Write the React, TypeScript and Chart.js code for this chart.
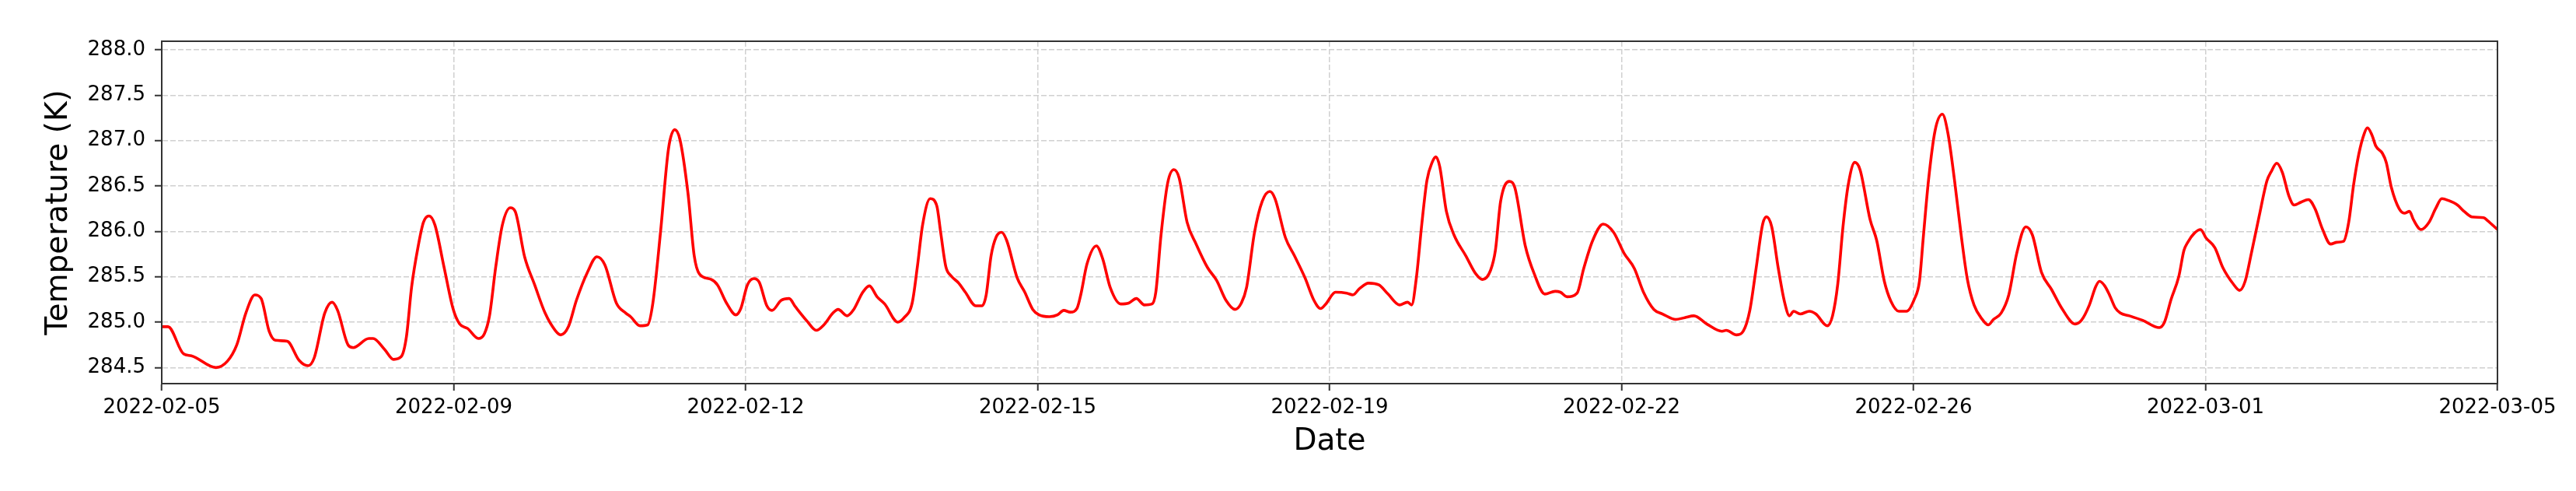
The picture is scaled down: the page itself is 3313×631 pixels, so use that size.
import React, { useEffect, useRef } from 'react';
import { Chart, registerables } from 'chart.js';

Chart.register(...registerables);

// Hours since 2022-02-05 00:00
const hours = [
  0.0, 1.8, 6.3, 8.5, 15.6, 18.9, 21.6, 24.2, 26.8, 28.6, 30.9, 32.7, 36.1, 39.5, 42.1, 43.9,
  46.9, 49.0, 50.6, 53.6, 55.1, 59.6, 60.8, 64.1, 66.7, 68.9, 70.4, 71.9, 73.8, 75.3, 76.9, 78.6,
  81.2, 83.8, 85.7, 88.0, 91.1, 92.8, 94.3, 96.1, 98.0, 100.3, 101.7, 104.4, 107.3, 110.3, 113.2,
  114.8, 117.0, 119.3, 122.6, 125.2, 127.5, 130.8, 133.5, 134.9, 137.6, 139.8, 141.3, 143.5, 145.8,
  147.6, 149.1, 151.4, 153.2, 154.7, 158.1, 159.9, 162.5, 165.2, 166.6, 168.5, 170.4, 171.9, 174.1,
  175.6, 178.2, 180.5, 182.3, 185.7, 188.3, 190.5, 193.1, 194.6, 197.2, 199.1, 201.7, 203.6, 205.8,
  208.0, 211.8, 213.6, 215.9, 217.4, 218.9, 221.1, 223.0, 224.1, 225.6, 227.1, 229.3, 231.2, 234.2,
  236.0, 237.2, 238.6, 240.1, 241.6, 243.1, 246.1, 248.3, 250.6, 252.4, 255.4, 257.7, 259.5, 261.4,
  263.3, 264.4, 266.2, 268.9, 270.7, 272.9, 275.9, 278.2, 280.4, 282.7, 284.9, 286.0, 287.5, 289.4,
  291.2, 292.7, 295.0, 297.6, 300.9, 303.5, 306.2, 308.8, 310.6, 312.1, 314.4, 316.6, 318.8, 320.3,
  323.3, 325.9, 328.9, 331.5, 333.4, 334.9, 337.7, 340.9, 342.7, 344.6, 347.2, 350.2, 352.8, 356.1,
  358.4, 359.6, 361.0, 362.5, 364.0, 365.5, 366.6, 367.7, 369.6, 371.8, 375.2, 378.1, 380.0, 382.3,
  383.7, 385.2, 387.7, 389.3, 392.3, 394.9, 397.9, 400.9, 402.4, 404.3, 407.2, 409.1, 411.7, 414.7,
  417.7, 420.7, 423.7, 426.3, 429.3, 431.8, 435.6, 438.2, 440.8, 444.5, 448.9, 450.1, 453.1, 455.0,
  456.9, 458.7, 460.6, 461.7, 463.2, 465.1, 466.9, 468.3, 469.5, 471.4, 474.0, 475.9, 479.2, 480.7,
  482.2, 483.7, 485.2, 487.1, 488.6, 491.5, 493.4, 495.6, 497.5, 499.8, 502.0, 504.2, 505.7, 506.8,
  508.3, 510.2, 512.3, 513.9, 515.8, 517.7, 519.5, 521.4, 523.6, 525.5, 527.0, 529.2, 531.4, 533.7,
  536.3, 538.2, 540.8, 543.7, 546.7, 550.5, 552.3, 554.6, 556.4, 557.5, 559.0, 560.5, 562.0, 563.5,
  566.1, 569.9, 574.7, 576.2, 578.1, 580.3, 581.8, 582.9, 584.8, 586.6, 588.1, 590.7, 593.0, 596.0,
  597.8, 599.4, 601.2, 603.4, 605.7, 606.8, 608.5, 610.1, 612.0, 613.5, 615.4, 617.6, 619.5, 621.7,
  624.0, 625.8, 627.7, 629.2, 630.6, 632.1, 633.7, 634.6, 635.9, 637.0, 638.9, 640.0, 641.5, 643.7,
  645.2, 646.7, 647.8, 650.0, 652.3, 654.2, 656.0, 657.9, 660.5, 662.4, 664.6, 668.0, 669.1, 672.0,
];

// Temperature (K)
const temps = [
  284.95, 284.95, 284.65, 284.63, 284.50, 284.57, 284.75, 285.10, 285.30, 285.26, 284.90, 284.80, 284.79, 284.58, 284.52, 284.61,
  285.10, 285.22, 285.13, 284.75, 284.72, 284.82, 284.82, 284.70, 284.59, 284.62, 284.84, 285.39, 285.84, 286.10, 286.17, 286.07,
  285.61, 285.15, 284.98, 284.93, 284.82, 284.87, 285.07, 285.61, 286.07, 286.26, 286.22, 285.72, 285.41, 285.10, 284.91,
  284.86, 284.95, 285.24, 285.56, 285.72, 285.63, 285.21, 285.10, 285.06, 284.96, 284.97, 285.21, 285.99, 286.91,
  287.12, 287.01, 286.42, 285.73, 285.53, 285.47, 285.41, 285.21, 285.08, 285.15, 285.41, 285.48, 285.44, 285.18,
  285.13, 285.24, 285.26, 285.17, 285.01, 284.91, 284.97, 285.10, 285.14, 285.07, 285.14, 285.33, 285.40, 285.28,
  285.20, 285.00, 285.05, 285.21, 285.61, 286.07, 286.36, 286.28, 285.99, 285.61, 285.51, 285.43, 285.33, 285.18,
  285.18, 285.30, 285.73, 285.94, 285.99, 285.90, 285.49, 285.33, 285.14, 285.08, 285.06, 285.08, 285.13, 285.11,
  285.15, 285.30, 285.64, 285.84, 285.70, 285.38, 285.20, 285.21, 285.26, 285.19, 285.20, 285.33, 285.96, 286.53,
  286.68, 286.59, 286.10, 285.86, 285.60, 285.46, 285.24, 285.14, 285.21, 285.38, 285.99, 286.33, 286.44, 286.36,
  285.93, 285.73, 285.49, 285.24, 285.15, 285.20, 285.33, 285.32, 285.30, 285.37, 285.43, 285.41, 285.31, 285.19,
  285.22, 285.19, 285.50, 286.07, 286.56, 286.76, 286.82, 286.71, 286.22, 285.96, 285.73, 285.53, 285.47, 285.57,
  285.79, 286.33, 286.55, 286.48, 285.84, 285.53, 285.31, 285.34, 285.33, 285.28, 285.32, 285.59, 285.90, 286.08,
  285.99, 285.76, 285.59, 285.33, 285.14, 285.09, 285.03, 285.05, 285.07, 284.98, 284.90, 284.91, 284.86, 284.90,
  285.13, 285.59, 286.08, 286.16, 286.05, 285.59, 285.22, 285.07, 285.12, 285.09, 285.12, 285.09, 284.96, 285.07,
  285.42, 286.05, 286.51, 286.76, 286.68, 286.13, 285.90, 285.45, 285.23, 285.12, 285.12, 285.25, 285.45, 285.93,
  286.56, 287.11, 287.29, 287.08, 286.56, 285.96, 285.47, 285.19, 285.04, 284.97, 285.03, 285.10, 285.30, 285.76,
  286.05, 285.96, 285.55, 285.36, 285.15, 284.98, 285.02, 285.19, 285.39, 285.45, 285.40, 285.29, 285.16, 285.10,
  285.07, 285.02, 284.94, 285.00, 285.25, 285.50, 285.79, 285.88, 285.98, 286.02, 285.93, 285.82, 285.60, 285.42,
  285.35, 285.45, 285.76, 286.16, 286.56, 286.65, 286.75, 286.65, 286.39, 286.29, 286.32, 286.35, 286.25, 286.02,
  285.86, 285.88, 285.89, 286.10, 286.51, 286.85, 287.08, 287.14, 287.06, 286.94, 286.86, 286.76, 286.48, 286.25,
  286.20, 286.22, 286.13, 286.02, 286.10, 286.25, 286.36, 286.34, 286.29, 286.22, 286.16, 286.15, 286.12, 286.02,
];

const xTickHours = [0, 84, 168, 252, 336, 420, 504, 588, 672];
const xTickLabels = [
  '2022-02-05', '2022-02-09', '2022-02-12', '2022-02-15', '2022-02-19',
  '2022-02-22', '2022-02-26', '2022-03-01', '2022-03-05',
];
const yTicks = [284.5, 285.0, 285.5, 286.0, 286.5, 287.0, 287.5, 288.0];
const yMin = 284.323;
const yMax = 288.094;

const FONT = 'DejaVu Sans';

export default function App() {
  const ref = useRef<HTMLCanvasElement | null>(null);

  useEffect(() => {
    document.body.style.margin = '0';
    const canvas = ref.current;
    if (!canvas) return;

    const frame = {
      id: 'frame',
      afterDatasetsDraw(chart: any) {
        const { ctx, chartArea: a } = chart;
        ctx.save();
        ctx.strokeStyle = '#333333';
        ctx.lineWidth = 2;
        ctx.strokeRect(a.left, a.top, a.right - a.left, a.bottom - a.top);
        ctx.restore();
      },
    };

    const chart = new Chart(canvas, {
      type: 'line',
      data: {
        datasets: [
          {
            data: hours.map((h, i) => ({ x: h, y: temps[i] })),
            borderColor: '#ff0000',
            borderWidth: 3.6,
            pointRadius: 0,
            fill: false,
            cubicInterpolationMode: 'monotone',
          },
        ],
      },
      options: {
        animation: false,
        responsive: false,
        maintainAspectRatio: false,
        layout: { padding: { left: 0, right: 101, top: 53, bottom: 0 } },
        plugins: { legend: { display: false }, tooltip: { enabled: false } },
        scales: {
          x: {
            type: 'linear',
            min: 0,
            max: 672,
            afterBuildTicks: (s: any) => {
              s.ticks = xTickHours.map((v) => ({ value: v }));
            },
            afterFit: (s: any) => {
              s.height = 138;
            },
            ticks: {
              autoSkip: false,
              maxRotation: 0,
              minRotation: 0,
              padding: 7,
              color: '#000000',
              font: { family: FONT, size: 26 },
              callback: (_v: any, i: number) => xTickLabels[i],
            },
            grid: {
              color: '#d0d0d0',
              lineWidth: 1.5,
              tickLength: 9,
              tickColor: '#333333',
              tickWidth: 2,
            },
            border: { display: true, color: '#333333', width: 2, dash: [7, 3] },
            title: {
              display: true,
              text: 'Date',
              color: '#000000',
              font: { family: FONT, size: 39 },
              padding: { top: 0, bottom: 40 },
            },
          },
          y: {
            type: 'linear',
            min: yMin,
            max: yMax,
            afterBuildTicks: (s: any) => {
              s.ticks = yTicks.map((v) => ({ value: v }));
            },
            afterFit: (s: any) => {
              s.width = 208;
            },
            ticks: {
              autoSkip: false,
              padding: 12,
              color: '#000000',
              font: { family: FONT, size: 26 },
              callback: (v: any) => Number(v).toFixed(1),
            },
            grid: {
              color: '#d0d0d0',
              lineWidth: 1.5,
              tickLength: 9,
              tickColor: '#333333',
              tickWidth: 2,
            },
            border: { display: true, color: '#333333', width: 2, dash: [7, 3] },
            title: {
              display: true,
              text: 'Temperature (K)',
              color: '#000000',
              font: { family: FONT, size: 39 },
              padding: { top: 52, bottom: 0 },
            },
          },
        },
      },
      plugins: [frame],
    } as any);

    return () => chart.destroy();
  }, []);

  return (
    <div style={{ position: 'fixed', left: 0, top: 0, width: 3313, height: 631, background: '#ffffff' }}>
      <canvas ref={ref} width={3313} height={631} style={{ display: 'block', width: 3313, height: 631 }} />
    </div>
  );
}
